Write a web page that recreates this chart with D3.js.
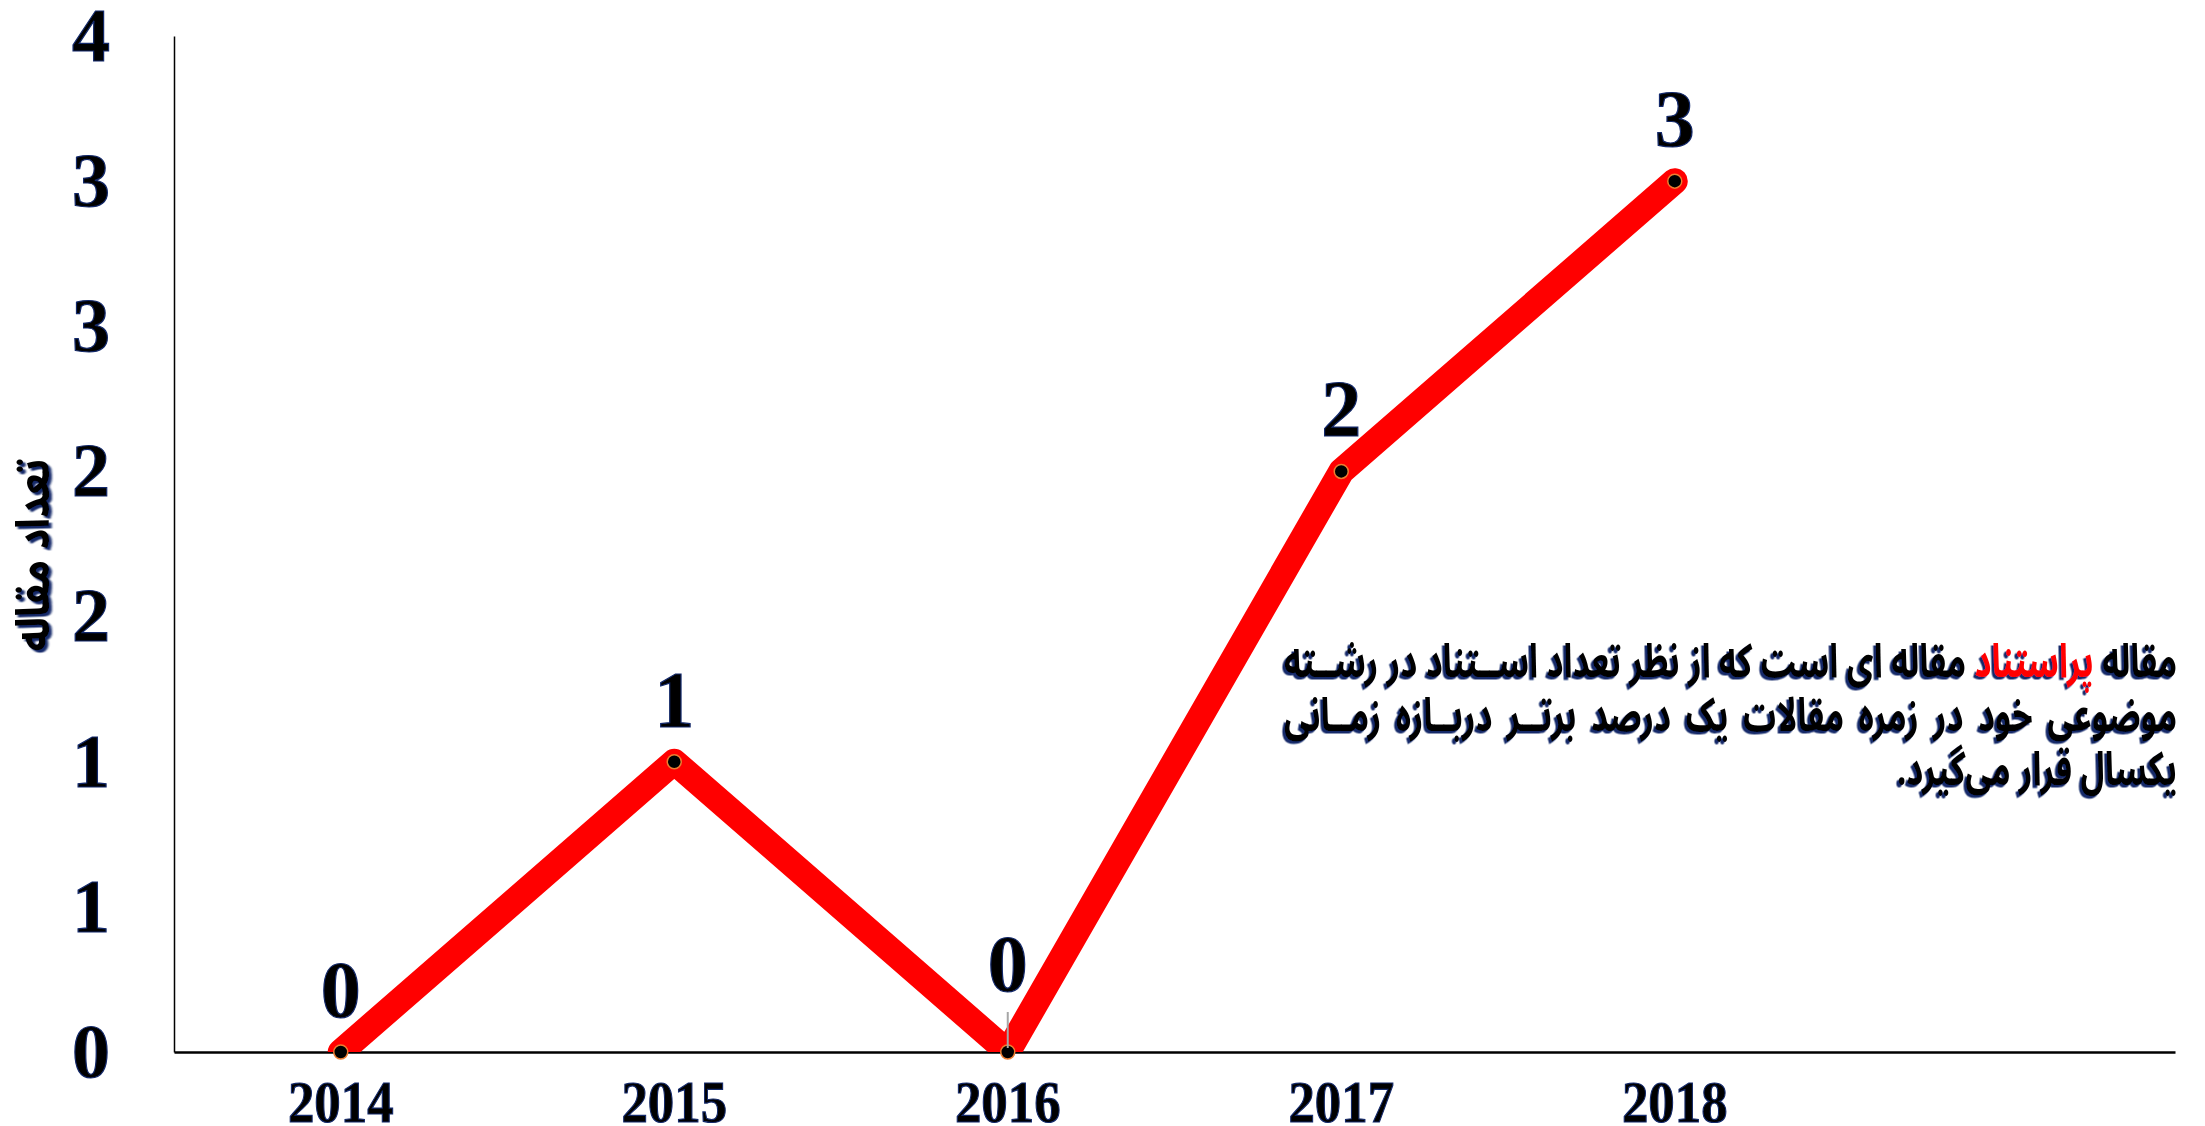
<!DOCTYPE html>
<html>
<head>
<meta charset="utf-8">
<script src="https://cdn.jsdelivr.net/npm/d3@7"></script>
<style>
    html, body { margin: 0; padding: 0; background: #fff; }
    svg { display: block; }
</style>
</head>
<body>
<div id="chart"></div>
<script>
// data
const years = ["2014", "2015", "2016", "2017", "2018"];
const slots = [...years, ""]; // the chart keeps an empty sixth slot on the right
const counts = [0, 1, 0, 2, 3];
const yTicks = [0, 0.5, 1, 1.5, 2, 2.5, 3, 3.5];
const yTitle = "تعداد مقاله";
const noteHighlight = "پراستناد";
const noteLines = [
    "مقاله پراستناد مقاله ای است که از نظر تعداد اســتناد در رشــته",
    "موضوعی خود در زمره مقالات یک درصد برتــر دربــازه زمــانی",
    "یکسال قرار می‌گیرد.",
];

const width = 2205;
const height = 1126;
const plot = { left: 174, right: 2175, top: 36, bottom: 1052 };

const numFont = "'Times New Roman', 'Liberation Serif', serif";
const faFont = "'B Nazanin', 'Noto Sans Arabic', 'DejaVu Sans', sans-serif";
const ink = "#000";
const navy = "#13296b";

const svg = d3
    .select("#chart")
    .append("svg")
    .attr("width", width)
    .attr("height", height);

const defs = svg.append("defs");
defs.append("clipPath")
    .attr("id", "plot-clip")
    .append("rect")
    .attr("x", 0)
    .attr("y", 0)
    .attr("width", width)
    .attr("height", plot.bottom);

defs.append("filter")
    .attr("id", "shadow")
    .attr("x", "-5%").attr("y", "-30%")
    .attr("width", "110%").attr("height", "160%")
    .append("feDropShadow")
    .attr("dx", -2.5)
    .attr("dy", 2.5)
    .attr("stdDeviation", 0.7)
    .attr("flood-color", navy)
    .attr("flood-opacity", 1);

const x = d3.scaleBand().domain(slots).range([plot.left, plot.right]);
const y = d3.scaleLinear().domain([0, 3.5]).range([plot.bottom, plot.top]);
const cx = (d) => x(d) + x.bandwidth() / 2;

// y axis
const yAxis = svg
    .append("g")
    .attr("transform", `translate(${plot.left},0)`)
    .call(
        d3.axisLeft(y)
            .tickValues(yTicks)
            .tickSize(0)
            .tickSizeOuter(0)
            .tickFormat((d) => Math.round(d))
    );
yAxis.select(".domain").attr("stroke", "#000").attr("stroke-width", 1.5);
yAxis.selectAll("text")
    .attr("x", -83)
    .attr("text-anchor", "middle")
    .style("font-family", numFont)
    .style("font-weight", "bold")
    .style("font-size", "76px")
    .attr("fill", ink)
    .attr("stroke", navy)
    .attr("stroke-width", 1.2);

// x axis
const xAxis = svg
    .append("g")
    .attr("transform", `translate(0,${plot.bottom})`)
    .call(d3.axisBottom(x).tickSize(0).tickSizeOuter(0).tickPadding(27));
xAxis.select(".domain").attr("stroke", "#000").attr("stroke-width", 2.5);
xAxis.selectAll("text")
    .attr("transform", "scale(0.88,1)")
    .style("font-family", numFont)
    .style("font-weight", "bold")
    .style("font-size", "60px")
    .attr("fill", ink)
    .attr("stroke", navy)
    .attr("stroke-width", 1.2);

// y title
svg.append("text")
    .attr("transform", `translate(36,555) rotate(-90) scale(1,1.15)`)
    .attr("text-anchor", "middle")
    .attr("dominant-baseline", "middle")
    .style("font-family", faFont)
    .style("font-weight", "bold")
    .style("font-size", "40px")
    .attr("fill", ink)
    .attr("filter", "url(#shadow)")
    .text(yTitle);

// the line
const line = d3
    .line()
    .x((d, i) => cx(years[i]))
    .y((d) => y(d));

svg.append("path")
    .datum(counts)
    .attr("clip-path", "url(#plot-clip)")
    .attr("fill", "none")
    .attr("stroke", "#ff0000")
    .attr("stroke-width", 26)
    .attr("stroke-linejoin", "round")
    .attr("stroke-linecap", "round")
    .attr("d", line);

svg.append("g")
    .selectAll("circle")
    .data(counts)
    .enter()
    .append("circle")
    .attr("cx", (d, i) => cx(years[i]))
    .attr("cy", (d) => y(d))
    .attr("r", 7)
    .attr("fill", "#000")
    .attr("stroke", "#ed7d31")
    .attr("stroke-width", 1.5);

// data labels; the 2016 one sits higher with a small leader line
const liftedYear = "2016";
const lift = (i) => (years[i] === liftedYear ? 26 : 0);

svg.append("g")
    .selectAll("line")
    .data(counts.filter((d, i) => years[i] === liftedYear))
    .enter()
    .append("line")
    .attr("x1", cx(liftedYear))
    .attr("x2", cx(liftedYear))
    .attr("y1", (d) => y(d) - 40)
    .attr("y2", (d) => y(d) - 4)
    .attr("stroke", "#a6a6a6")
    .attr("stroke-width", 2);

svg.append("g")
    .selectAll("text")
    .data(counts)
    .enter()
    .append("text")
    .attr("x", (d, i) => cx(years[i]))
    .attr("y", (d, i) => y(d) - 35 - lift(i))
    .attr("text-anchor", "middle")
    .style("font-family", numFont)
    .style("font-weight", "bold")
    .style("font-size", "80px")
    .attr("fill", ink)
    .attr("stroke", navy)
    .attr("stroke-width", 1.2)
    .text((d) => d);

// note block, right aligned and justified like the source
function drawNote() {
    const right = 2177;
    const target = 893;
    const baseline = [677, 731, 785];
    const size = 47;

    const note = svg
        .append("g")
        .attr("filter", "url(#shadow)");
    const inner = note.append("g");
    const rows = inner
        .selectAll("text")
        .data(noteLines)
        .enter()
        .append("text")
        .attr("x", 0)
        .attr("y", (d, i) => baseline[i])
        .attr("direction", "rtl")
        .attr("text-anchor", "start")
        .style("font-family", faFont)
        .style("font-weight", "bold")
        .style("font-size", `${size}px`)
        .attr("fill", ink);

    rows.each(function (d) {
        const row = d3.select(this);
        const parts = d.split(noteHighlight);
        parts.forEach((p, k) => {
            if (k > 0) row.append("tspan").attr("fill", "#ff0000").text(noteHighlight);
            if (p) row.append("tspan").text(p);
        });
    });

    // squeeze the glyphs so the first line fits, then stretch the second with word spacing
    const first = rows.nodes()[0].getComputedTextLength();
    const sx = target / first;
    inner.attr("transform", `translate(${right},0) scale(${sx},1)`);
    rows.each(function (d, i) {
        if (i !== 1) return;
        const w = this.getComputedTextLength();
        const gaps = d.split(" ").length - 1;
        d3.select(this).attr("word-spacing", (first - w) / gaps);
    });
}
drawNote();
</script>
</body>
</html>
